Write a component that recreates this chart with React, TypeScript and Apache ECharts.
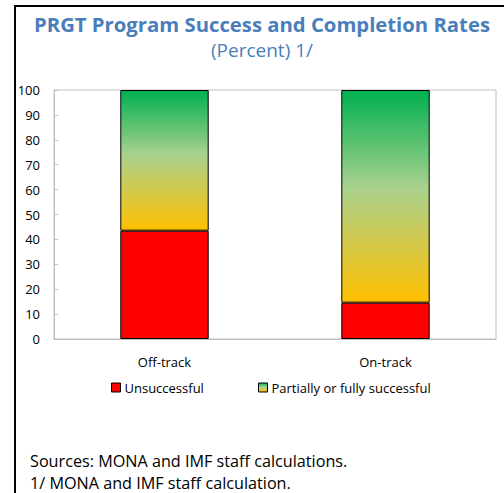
import React, { useEffect, useRef } from "react";
import * as echarts from "echarts";

const categories = ["Off-track", "On-track"];
const unsuccessful = [43.5, 14.6];
const successful = [56.5, 85.4];
const yTicks = { min: 0, max: 100, interval: 10 };
const titleText = "PRGT Program Success and Completion Rates";
const subtitleText = "(Percent) 1/";
const notes = ["Sources: MONA and IMF staff calculations.", "1/ MONA and IMF staff calculation."];
const seriesNames = ["Unsuccessful", "Partially or fully successful"];

const FONT = "'Open Sans', 'Noto Sans', sans-serif";

export default function App() {
  const ref = useRef<HTMLDivElement>(null);
  useEffect(() => {
    document.body.style.margin = "0";
    const chart = echarts.init(ref.current!, null, { renderer: "svg" });
    const grad = new echarts.graphic.LinearGradient(0, 0, 0, 1, [
      { offset: 0, color: "#00B050" },
      { offset: 0.46, color: "#A9D18E" },
      { offset: 1, color: "#FFC000" },
    ]);
    chart.setOption({
      animation: false,
      textStyle: { fontFamily: FONT },
      legend: [
        {
          data: [seriesNames[0]],
          left: 111,
          top: 381,
          icon: "rect",
          itemWidth: 9,
          itemHeight: 9,
          itemGap: 4,
          textStyle: { fontSize: 13, color: "#000", fontFamily: FONT, padding: [0, 0, 0, -1] },
          padding: 0,
          itemStyle: { borderColor: "#000", borderWidth: 1 },
        },
        {
          data: [seriesNames[1]],
          left: 258,
          top: 381,
          icon: "rect",
          itemWidth: 9,
          itemHeight: 9,
          textStyle: { fontSize: 13, color: "#000", fontFamily: FONT, padding: [0, 0, 0, -1] },
          padding: 0,
          itemStyle: { borderColor: "#000", borderWidth: 1 },
        },
      ],
      grid: {
        left: 54,
        top: 90,
        width: 442,
        height: 249,
        show: true,
        borderColor: "#BFBFBF",
        borderWidth: 1,
      },
      xAxis: {
        type: "category",
        data: categories,
        axisLine: { lineStyle: { color: "#BFBFBF" } },
        axisTick: { inside: true, length: 4, lineStyle: { color: "#BFBFBF" } },
        axisLabel: { fontSize: 13, color: "#000", margin: 16, fontFamily: FONT },
      },
      yAxis: {
        type: "value",
        min: yTicks.min,
        max: yTicks.max,
        interval: yTicks.interval,
        axisLine: { show: true, lineStyle: { color: "#BFBFBF" } },
        axisTick: { show: true, inside: true, length: 4, lineStyle: { color: "#BFBFBF" } },
        splitLine: { show: false },
        axisLabel: { fontSize: 13, color: "#000", margin: 14, fontFamily: FONT },
      },
      series: [
        {
          name: seriesNames[0],
          type: "bar",
          stack: "total",
          data: unsuccessful,
          barCategoryGap: "60%",
          itemStyle: { color: "#FF0000", borderColor: "#000", borderWidth: 1 },
        },
        {
          name: seriesNames[1],
          type: "bar",
          stack: "total",
          data: successful,
          barCategoryGap: "60%",
          itemStyle: { color: grad, borderColor: "#000", borderWidth: 1 },
        },
      ],
      graphic: [
        {
          type: "rect",
          shape: { x: 15, y: 6, width: 600, height: 600 },
          style: { fill: "none", stroke: "#000", lineWidth: 2 },
          silent: true,
        },
        {
          type: "text",
          x: 262,
          y: 24,
          style: {
            text: titleText,
            fontSize: 20.3,
            fontWeight: "bold",
            fill: "#4A7EBB",
            fontFamily: FONT,
            textAlign: "center",
            textVerticalAlign: "middle",
          },
        },
        {
          type: "text",
          x: 262,
          y: 50,
          style: {
            text: subtitleText,
            fontSize: 19,
            fill: "#4A7EBB",
            fontFamily: FONT,
            textAlign: "center",
            textVerticalAlign: "middle",
          },
        },
        {
          type: "text",
          x: 30,
          y: 460.5,
          style: { text: notes[0], fontSize: 16.2, fill: "#000", fontFamily: FONT, textVerticalAlign: "middle" },
        },
        {
          type: "text",
          x: 30,
          y: 482.5,
          style: { text: notes[1], fontSize: 16.2, fill: "#000", fontFamily: FONT, textVerticalAlign: "middle" },
        },
      ],
    });
    return () => chart.dispose();
  }, []);
  return <div ref={ref} style={{ width: 504, height: 493, position: "absolute", left: 0, top: 0 }} />;
}
